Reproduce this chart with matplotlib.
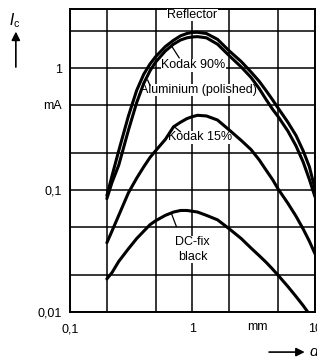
"""反射板の種類ごとのコレクタ電流"""
import matplotlib.pyplot as plt
from matplotlib.patches import FancyArrowPatch

plt.rcParams["font.family"] = ["Liberation Sans", "DejaVu Sans"]

# 距離 d （mm）
d = [0.2, 0.22, 0.25, 0.3, 0.35, 0.4, 0.45, 0.5, 0.6, 0.7, 0.8, 0.9, 1.0,
     1.1, 1.3, 1.6, 2.0, 2.5, 3.0, 3.5, 4.0, 4.5, 5.0, 6.0, 7.0, 8.0, 9.0,
     10.0]
# コレクタ電流 Ic （mA）
reflector = [0.09, 0.13, 0.21, 0.405, 0.655, 0.89, 1.08, 1.24, 1.5, 1.69, 1.84,
             1.92, 1.96, 1.965, 1.92, 1.72, 1.38, 1.13, 0.93, 0.78, 0.65, 0.55,
             0.47, 0.36, 0.28, 0.21, 0.155, 0.102]
kodak90 = [0.085, 0.115, 0.16, 0.31, 0.52, 0.75, 0.95, 1.12, 1.38, 1.57, 1.7,
           1.77, 1.8, 1.81, 1.77, 1.57, 1.26, 1.02, 0.84, 0.68, 0.55, 0.46,
           0.4, 0.305, 0.23, 0.17, 0.122, 0.088]
kodak15 = [0.037, 0.046, 0.062, 0.095, 0.125, 0.155, 0.185, 0.21, 0.26, 0.33,
           0.36, 0.385, 0.40, 0.41, 0.405, 0.375, 0.31, 0.255, 0.215, 0.177,
           0.145, 0.122, 0.102, 0.078, 0.061, 0.048, 0.038, 0.03]
dcfix = [0.0187, 0.021, 0.026, 0.033, 0.04, 0.046, 0.052, 0.056, 0.062, 0.066,
         0.068, 0.068, 0.067, 0.066, 0.062, 0.057, 0.048, 0.04, 0.0335, 0.029,
         0.0255, 0.0225, 0.02, 0.0162, 0.0134, 0.0113, 0.0096, 0.0082]

# グリッド位置
x_grid = [0.2, 0.5, 2, 5]
y_grid = [0.02, 0.05, 0.2, 0.5, 2]

fig = plt.figure(figsize=(3.17, 3.6), dpi=100)
ax = fig.add_axes([0.2208, 0.1333, 0.7729, 0.8417])

for y in [reflector, kodak90, kodak15, dcfix]:
    ax.plot(d, y, color="black", lw=2.2, solid_capstyle="round", zorder=5)

ax.set_xscale("log")
ax.set_yscale("log")
ax.set_xlim(0.1, 10)
ax.set_ylim(0.01, 3.05)

# 目盛り
fs = 9
ax.set_xticks([0.1, 1, 10], ["0,1", "1", "10"])
ax.set_yticks([0.01, 0.1, 0.5, 1], ["0,01", "0,1", "mA", "1"])
ax.set_xticks(x_grid, minor=True)
ax.set_yticks(y_grid, minor=True)
ax.tick_params(which="both", length=0, labelsize=fs)
ax.tick_params(axis="x", pad=8)
ax.tick_params(axis="y", pad=6)
ax.set_xticklabels([], minor=True)
ax.set_yticklabels([], minor=True)
ax.grid(True, which="both", color="black", lw=1.1)
for s in ax.spines.values():
    s.set_linewidth(1.4)

# ラベル
box = dict(facecolor="white", edgecolor="none", pad=0.3)
ax.text(1.0, 2.72, "Reflector", ha="center", va="center", fontsize=fs,
        bbox=box, zorder=4)
ax.text(1.01, 1.05, "Kodak 90%", ha="center", va="center", fontsize=fs,
        bbox=box, zorder=4)
ax.text(1.11, 0.66, "Aluminium (polished)", ha="center", va="center",
        fontsize=fs, bbox=box, zorder=4)
ax.text(1.16, 0.27, "Kodak 15%", ha="center", va="center", fontsize=fs,
        bbox=box, zorder=4)
ax.text(1.0, 0.0325, "DC-fix\nblack", ha="center", va="center", fontsize=fs,
        linespacing=1.25, bbox=box, zorder=4)
ax.text(3.39, 0.0085, "mm", ha="center", va="top", fontsize=fs)

# 引き出し線
leader = dict(arrowstyle="-", color="black", lw=0.9, shrinkA=0, shrinkB=0)
ax.annotate("", xy=(0.68, 1.5), xytext=(0.78, 1.21), arrowprops=leader,
            zorder=4)
ax.annotate("", xy=(0.43, 0.8), xytext=(0.45, 0.72), arrowprops=leader,
            zorder=4)
ax.annotate("", xy=(0.71, 0.33), xytext=(0.8, 0.3), arrowprops=leader,
            zorder=4)
ax.annotate("", xy=(0.67, 0.065), xytext=(0.74, 0.05), arrowprops=leader,
            zorder=4)

# 軸の名前と矢印
fig.text(0.047, 0.944, r"$\mathit{I}_\mathregular{c}$", ha="center",
         va="center", fontsize=11)
fig.patches.append(FancyArrowPatch(
    (0.05, 0.806), (0.05, 0.92), transform=fig.transFigure,
    arrowstyle="-|>,head_length=5,head_width=2.5", color="black", lw=1.2))
fig.patches.append(FancyArrowPatch(
    (0.84, 0.022), (0.97, 0.022), transform=fig.transFigure,
    arrowstyle="-|>,head_length=5,head_width=2.5", color="black", lw=1.2))
fig.text(0.975, 0.022, "d", style="italic", ha="left", va="center",
         fontsize=11)

fig.savefig("out.png", dpi=100)
